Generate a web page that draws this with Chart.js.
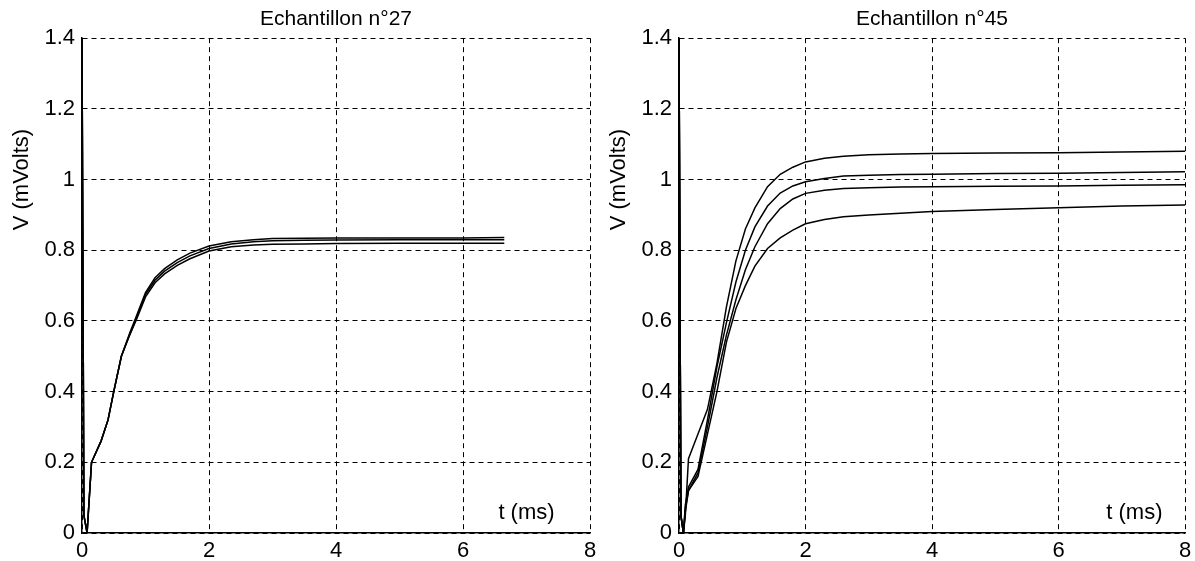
<!DOCTYPE html>
<html>
<head>
<meta charset="utf-8">
<script src="https://cdn.jsdelivr.net/npm/chart.js@4/dist/chart.umd.min.js"></script>
<style>
  body { margin: 0; background: #fff; }
  #wrap { position: relative; width: 1195px; height: 561px; }
  canvas { position: absolute; top: 0; }
</style>
</head>
<body>
<div id="wrap">
  <canvas id="left" width="597" height="561" style="left:0"></canvas>
  <canvas id="right" width="598" height="561" style="left:597px"></canvas>
</div>
<script>
// ticks
const xTicks = ['0', '2', '4', '6', '8'];
const yTicks = ['0', '0.2', '0.4', '0.6', '0.8', '1', '1.2', '1.4'];

// Echantillon n°27 (3 courbes presque confondues)
const time27 = [0, 0.03, 0.08, 0.15, 0.3, 0.41, 0.5, 0.62, 0.75, 0.86, 1.0, 1.15, 1.3, 1.5, 1.7, 2.0, 2.35, 2.7, 3.0, 3.5, 4.0, 5.0, 6.0, 6.65];
const v27a = [1.4, 0.05, 0.0, 0.2, 0.26, 0.32, 0.40, 0.50, 0.565, 0.615, 0.68, 0.722, 0.748, 0.773, 0.792, 0.812, 0.824, 0.83, 0.833, 0.834, 0.835, 0.835, 0.835, 0.836];
const v27b = [1.4, 0.05, 0.0, 0.2, 0.26, 0.32, 0.40, 0.50, 0.56, 0.61, 0.675, 0.715, 0.741, 0.765, 0.784, 0.805, 0.818, 0.824, 0.827, 0.828, 0.829, 0.83, 0.83, 0.83];
const v27c = [1.4, 0.05, 0.0, 0.2, 0.26, 0.32, 0.40, 0.50, 0.56, 0.605, 0.668, 0.708, 0.733, 0.757, 0.776, 0.798, 0.81, 0.815, 0.817, 0.818, 0.819, 0.82, 0.82, 0.82];

// Echantillon n°45 (4 courbes)
const time45 = [0, 0.03, 0.07, 0.1, 0.15, 0.3, 0.45, 0.6, 0.75, 0.9, 1.05, 1.2, 1.4, 1.6, 1.8, 2.0, 2.3, 2.6, 3.0, 3.5, 4.0, 5.0, 6.0, 7.0, 8.0];
const v45a = [1.4, 0.05, 0.0, 0.05, 0.21, 0.28, 0.35, 0.48, 0.64, 0.77, 0.86, 0.92, 0.98, 1.015, 1.035, 1.05, 1.06, 1.066, 1.07, 1.072, 1.074, 1.075, 1.076, 1.078, 1.08];
const v45b = [1.4, 0.05, 0.0, 0.08, 0.13, 0.18, 0.32, 0.47, 0.595, 0.71, 0.80, 0.866, 0.925, 0.962, 0.982, 0.994, 1.003, 1.01, 1.012, 1.014, 1.015, 1.017, 1.018, 1.02, 1.022];
const v45c = [1.4, 0.05, 0.0, 0.07, 0.12, 0.17, 0.30, 0.44, 0.56, 0.66, 0.745, 0.81, 0.875, 0.918, 0.945, 0.961, 0.97, 0.975, 0.977, 0.979, 0.98, 0.981, 0.982, 0.984, 0.985];
const v45d = [1.4, 0.05, 0.0, 0.06, 0.12, 0.16, 0.28, 0.40, 0.54, 0.635, 0.70, 0.755, 0.805, 0.835, 0.857, 0.875, 0.887, 0.895, 0.90, 0.905, 0.91, 0.915, 0.92, 0.925, 0.928];

Chart.defaults.font.family = '"Liberation Sans", Arial, sans-serif';
Chart.defaults.color = '#000';

// textes supplémentaires : "V (mVolts)" et "t (ms)"
const extraText = {
    id: 'extraText',
    afterDraw(chart, args, opts) {
        const ctx = chart.ctx;
        const x = chart.scales.x;
        const y = chart.scales.y;
        ctx.save();
        ctx.font = '22px "Liberation Sans", Arial, sans-serif';
        ctx.fillStyle = '#000';
        ctx.textAlign = 'center';
        ctx.textBaseline = 'middle';
        ctx.fillText(opts.xLabel, x.getPixelForValue(opts.xLabelAt[0]), y.getPixelForValue(opts.xLabelAt[1]));
        ctx.translate(chart.chartArea.left - 60, y.getPixelForValue(opts.yLabelAt));
        ctx.rotate(-Math.PI / 2);
        ctx.fillText(opts.yLabel, 0, 0);
        ctx.restore();
    }
};

function toPoints(times, values) {
    return times.map((t, i) => ({ x: t, y: values[i] }));
}

function makeChart(id, title, times, series, padRight, xLabelAt) {
    const ctx = document.getElementById(id);
    return new Chart(ctx, {
        type: 'line',
        data: {
            datasets: series.map(s => ({
                data: toPoints(times, s),
                borderColor: '#000',
                borderWidth: 1.5,
                pointRadius: 0,
                tension: 0,
                fill: false
            }))
        },
        options: {
            responsive: false,
            animation: false,
            layout: { padding: { left: 0, right: padRight, top: 0, bottom: 0 } },
            plugins: {
                legend: { display: false },
                tooltip: { enabled: false },
                title: {
                    display: true,
                    text: title,
                    fullSize: false,
                    font: { size: 21, weight: 'normal' },
                    padding: { top: 7, bottom: 6 }
                },
                extraText: { xLabel: 't (ms)', xLabelAt: xLabelAt, yLabel: 'V (mVolts)', yLabelAt: 1.0 }
            },
            scales: {
                x: {
                    type: 'linear',
                    min: 0,
                    max: 8,
                    afterFit: s => { s.height = 28; },
                    afterBuildTicks: s => { s.ticks = xTicks.map(v => ({ value: Number(v) })); },
                    ticks: {
                        font: { size: 22, lineHeight: 1.6 },
                        padding: 0,
                        maxRotation: 0,
                        callback: (v, i) => xTicks[i]
                    },
                    grid: { color: '#000', lineWidth: 1, drawTicks: false },
                    border: { display: true, color: '#000', width: 1.5, dash: [5, 4] }
                },
                y: {
                    min: 0,
                    max: 1.4,
                    afterFit: s => { s.width = 82; },
                    afterBuildTicks: s => { s.ticks = yTicks.map(v => ({ value: Number(v) })); },
                    ticks: {
                        font: { size: 22 },
                        padding: 7,
                        callback: (v, i) => yTicks[i]
                    },
                    grid: { color: '#000', lineWidth: 1, drawTicks: false },
                    border: { display: true, color: '#000', width: 1.5, dash: [5, 4] }
                }
            }
        },
        plugins: [extraText]
    });
}

makeChart('left', 'Echantillon n°27', time27, [v27a, v27b, v27c], 7, [7.0, 0.057]);
makeChart('right', 'Echantillon n°45', time45, [v45a, v45b, v45c, v45d], 10, [7.2, 0.057]);
</script>
</body>
</html>
